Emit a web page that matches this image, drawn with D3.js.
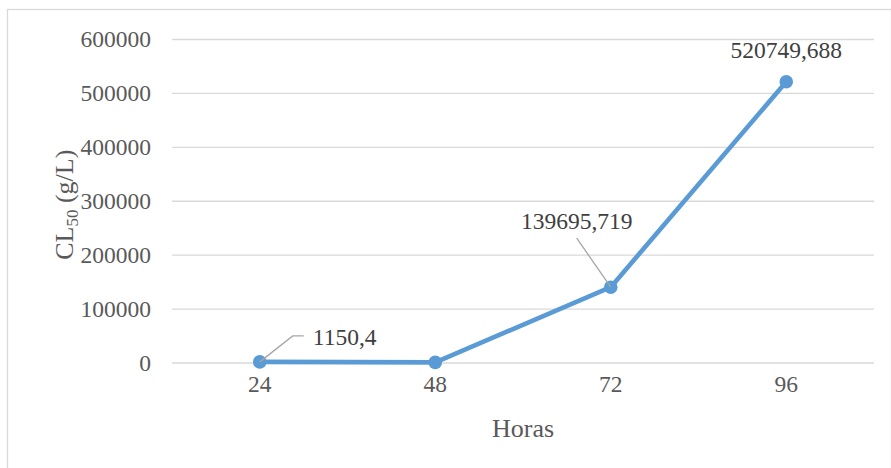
<!DOCTYPE html>
<html>
<head>
<meta charset="utf-8">
<script src="https://cdn.jsdelivr.net/npm/d3@7/dist/d3.min.js"></script>
<style>
  html, body { margin: 0; padding: 0; background: #fff; }
  svg { display: block; }
</style>
</head>
<body>
<svg id="chart" width="891" height="468"></svg>
<script>
const categories = ["24", "48", "72", "96"];
const values = [1150.4, 200, 139695.719, 520749.688];
const labels = ["1150,4", null, "139695,719", "520749,688"];
const yTicks = [0, 100000, 200000, 300000, 400000, 500000, 600000];
const xTitle = "Horas";

const svg = d3.select("#chart");
const W = 891, H = 468;
const plot = { left: 172, right: 874, top: 39, bottom: 362.5 };
const serif = "'Liberation Serif', 'Times New Roman', serif";

svg.append("rect").attr("x", 0).attr("y", 0).attr("width", W).attr("height", H).attr("fill", "#fff");
// chart border
svg.append("rect")
  .attr("x", 7.5).attr("y", 9.5).attr("width", 884).attr("height", 480)
  .attr("fill", "none").attr("stroke", "#D9D9D9").attr("stroke-width", 1.3);

const x = d3.scaleBand().domain(categories).range([plot.left, plot.right]);
const y = d3.scaleLinear().domain([0, 600000]).range([plot.bottom, plot.top]);

// gridlines + y tick labels via axis
const yAxis = d3.axisLeft(y).tickValues(yTicks).tickSize(-(plot.right - plot.left)).tickPadding(21)
  .tickFormat(d3.format("d"));
const gy = svg.append("g").attr("transform", `translate(${plot.left},0)`).call(yAxis);
gy.select(".domain").remove();
gy.selectAll(".tick line").attr("stroke", "#D9D9D9").attr("stroke-width", 1.3);
gy.selectAll(".tick text")
  .attr("fill", "#595959").attr("font-family", serif).attr("font-size", "23.5px")
  .attr("dy", "0.33em");

// x axis labels
const xAxis = d3.axisBottom(x).tickSize(0).tickPadding(13);
const gx = svg.append("g").attr("transform", `translate(0,${plot.bottom})`).call(xAxis);
gx.select(".domain").remove();
gx.selectAll(".tick text")
  .attr("fill", "#595959").attr("font-family", serif).attr("font-size", "23.5px");

// line
const cx = (d, i) => x(categories[i]) + x.bandwidth() / 2;
const line = d3.line().x((d, i) => cx(d, i)).y(d => y(d));
svg.append("path").datum(values)
  .attr("d", line).attr("fill", "none")
  .attr("stroke", "#5B9BD5").attr("stroke-width", 4.6).attr("stroke-linejoin", "round");

// markers
svg.selectAll("circle.pt").data(values).enter().append("circle")
  .attr("class", "pt")
  .attr("cx", (d, i) => cx(d, i)).attr("cy", d => y(d)).attr("r", 6.8)
  .attr("fill", "#5B9BD5");

// data labels
const lblFont = { fill: "#404040", size: "23.5px" };
// label 0: leader up-right, then horizontal
{
  const px = cx(values[0], 0), py = y(values[0]);
  svg.append("path")
    .attr("d", `M${px},${py} L${px + 33},${py - 26} L${px + 44},${py - 26}`)
    .attr("fill", "none").attr("stroke", "#A6A6A6").attr("stroke-width", 1.3);
  svg.append("text").attr("x", px + 53).attr("y", py - 17)
    .attr("font-family", serif).attr("font-size", lblFont.size).attr("fill", lblFont.fill)
    .text(labels[0]);
}
// label 2: leader up-left
{
  const px = cx(values[2], 2), py = y(values[2]);
  svg.append("path")
    .attr("d", `M${px},${py} L${px - 34},${py - 49}`)
    .attr("fill", "none").attr("stroke", "#A6A6A6").attr("stroke-width", 1.3);
  svg.append("text").attr("x", px - 34).attr("y", py - 58).attr("text-anchor", "middle")
    .attr("font-family", serif).attr("font-size", lblFont.size).attr("fill", lblFont.fill)
    .text(labels[2]);
}
// label 3: above
{
  const px = cx(values[3], 3), py = y(values[3]);
  svg.append("text").attr("x", px).attr("y", py - 23.5).attr("text-anchor", "middle")
    .attr("font-family", serif).attr("font-size", lblFont.size).attr("fill", lblFont.fill)
    .text(labels[3]);
}

// axis titles
svg.append("text")
  .attr("x", (plot.left + plot.right) / 2).attr("y", 437)
  .attr("text-anchor", "middle").attr("font-family", serif).attr("font-size", "26px")
  .attr("fill", "#595959").text(xTitle);

const yt = svg.append("text")
  .attr("transform", `translate(73,${(plot.top + plot.bottom) / 2 + 4}) rotate(-90)`)
  .attr("text-anchor", "middle").attr("font-family", serif).attr("font-size", "26px")
  .attr("fill", "#595959");
yt.append("tspan").text("CL");
yt.append("tspan").attr("font-size", "17px").attr("dy", "5").text("50");
yt.append("tspan").attr("dy", "-5").text(" (g/L)");
</script>
</body>
</html>
